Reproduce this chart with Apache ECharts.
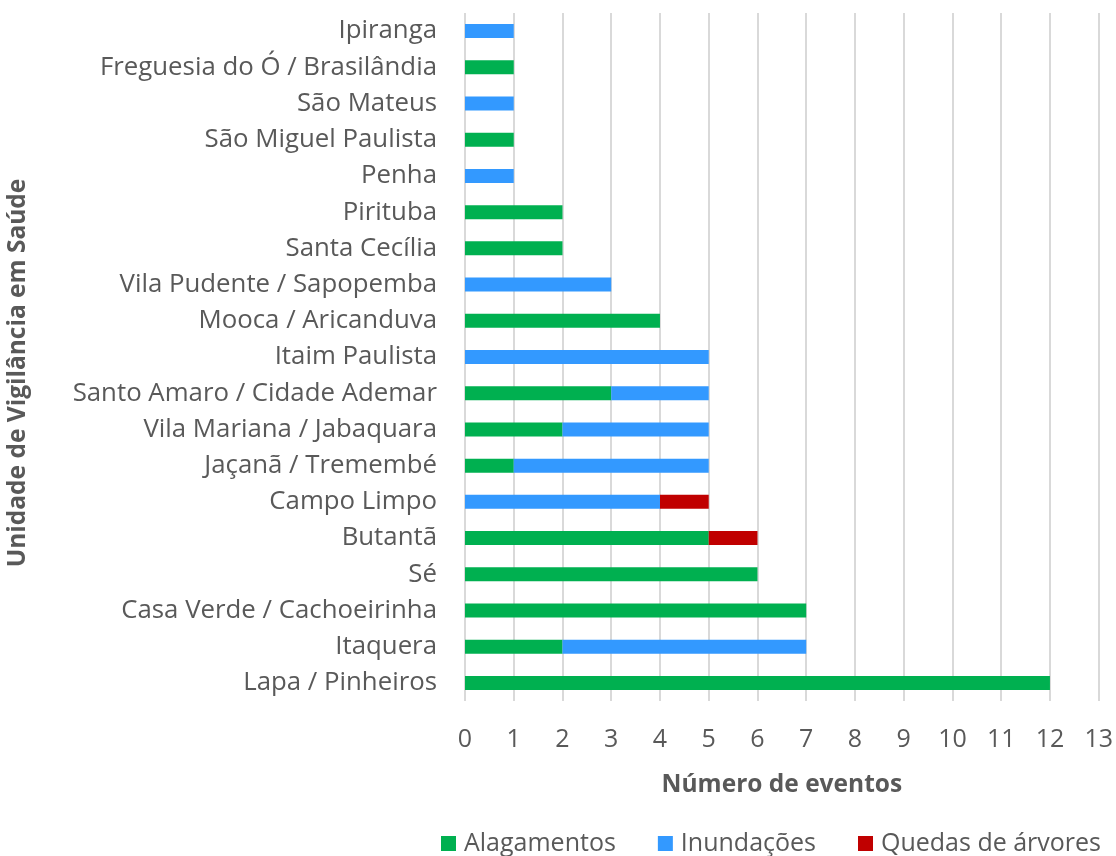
<!DOCTYPE html>
<html>
<head>
<meta charset="utf-8">
<script src="https://cdn.jsdelivr.net/npm/echarts@6/dist/echarts.min.js"></script>
<style>
  html, body { margin: 0; padding: 0; background: #fff; }
  #chart { width: 1116px; height: 856px; }
</style>
</head>
<body>
<div id="chart"></div>
<script>
// Health surveillance units, listed bottom to top
const categories = [
  'Lapa / Pinheiros', 'Itaquera', 'Casa Verde / Cachoeirinha', 'Sé', 'Butantã',
  'Campo Limpo', 'Jaçanã / Tremembé', 'Vila Mariana / Jabaquara',
  'Santo Amaro / Cidade Ademar', 'Itaim Paulista', 'Mooca / Aricanduva',
  'Vila Pudente / Sapopemba', 'Santa Cecília', 'Pirituba', 'Penha',
  'São Miguel Paulista', 'São Mateus', 'Freguesia do Ó / Brasilândia', 'Ipiranga'
];
const alagamentos = [12, 2, 7, 6, 5, 0, 1, 2, 3, 0, 4, 0, 2, 2, 0, 1, 0, 1, 0];
const inundacoes  = [0, 5, 0, 0, 0, 4, 4, 3, 2, 5, 0, 3, 0, 0, 1, 0, 1, 0, 1];
const quedas      = [0, 0, 0, 0, 1, 1, 0, 0, 0, 0, 0, 0, 0, 0, 0, 0, 0, 0, 0];
const seriesNames = ['Alagamentos', 'Inundações', 'Quedas de árvores'];
const yTitle = 'Unidade de Vigilância em Saúde';
const xTitle = 'Número de eventos';

const FONT = '"Open Sans", sans-serif';
const TEXT = '#595959';

const chart = echarts.init(document.getElementById('chart'));

function bar(name, data, color) {
  return {
    name: name,
    type: 'bar',
    stack: 'total',
    barWidth: 14,
    data: data.map(v => (v === 0 ? null : v)),
    itemStyle: { color: color },
    emphasis: { disabled: true }
  };
}

chart.setOption({
  animation: false,
  textStyle: { fontFamily: FONT },
  grid: { left: 465, right: 17, top: 13, bottom: 155, containLabel: false },
  legend: {
    bottom: -5,
    left: 436,
    itemWidth: 15,
    itemHeight: 15,
    itemGap: 42,
    icon: 'rect',
    textStyle: { fontFamily: FONT, fontSize: 25, color: TEXT, padding: [0, 0, 0, 3] },
    data: seriesNames
  },
  // vertical axis title, rotated and placed left of the category labels
  graphic: [{
    type: 'text',
    rotation: Math.PI / 2,
    x: 18,
    y: 373,
    style: {
      text: yTitle,
      fontFamily: FONT,
      fontSize: 24.5,
      fontWeight: 'bold',
      fill: TEXT,
      align: 'center',
      verticalAlign: 'middle'
    }
  }],
  xAxis: {
    type: 'value',
    min: 0,
    max: 13,
    interval: 1,
    name: xTitle,
    nameLocation: 'middle',
    nameGap: 72,
    nameTextStyle: { fontFamily: FONT, fontSize: 24.5, fontWeight: 'bold', color: TEXT },
    axisLine: { show: false },
    axisTick: { show: false },
    axisLabel: { fontFamily: FONT, fontSize: 25, color: TEXT, margin: 26 },
    splitLine: { show: true, lineStyle: { color: '#d9d9d9', width: 2 } }
  },
  yAxis: {
    type: 'category',
    data: categories,
    axisLine: { show: false },
    axisTick: { show: false },
    axisLabel: { fontFamily: FONT, fontSize: 25.8, color: TEXT, margin: 28 }
  },
  series: [
    bar(seriesNames[0], alagamentos, '#00b050'),
    bar(seriesNames[1], inundacoes, '#3399ff'),
    bar(seriesNames[2], quedas, '#c00000')
  ]
});
</script>
</body>
</html>
